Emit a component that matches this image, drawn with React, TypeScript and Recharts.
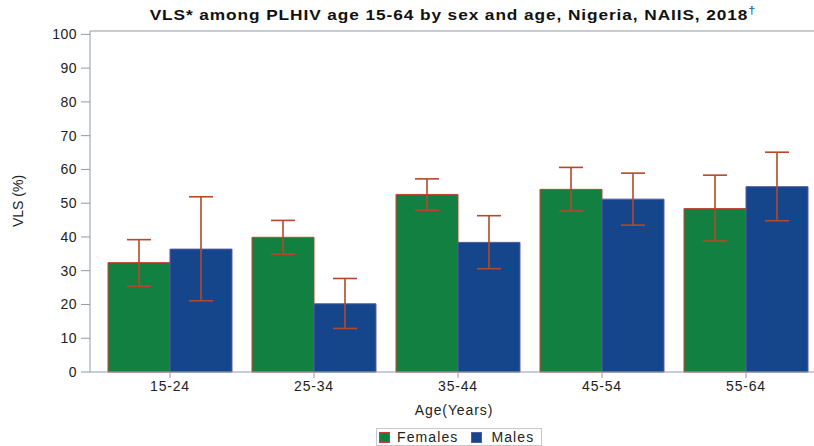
import React from "react";
import { BarChart, Bar, XAxis, YAxis, ErrorBar, Legend, ReferenceLine, Label } from "recharts";

const ageGroups = ["15-24", "25-34", "35-44", "45-54", "55-64"];
const femalesVls = [32.4, 39.9, 52.6, 54.1, 48.4];
const femalesLow = [25.4, 34.9, 47.9, 47.7, 38.8];
const femalesHigh = [39.2, 44.9, 57.2, 60.6, 58.3];
const malesVls = [36.4, 20.2, 38.4, 51.2, 54.9];
const malesLow = [21.1, 12.9, 30.6, 43.5, 44.8];
const malesHigh = [51.9, 27.7, 46.3, 58.9, 65.1];
const yTicks = [0, 10, 20, 30, 40, 50, 60, 70, 80, 90, 100];

const FONT = "'Liberation Sans', Arial, sans-serif";
const GREEN = "#118040";
const BLUE = "#15468b";
const AXIS = "#8d9ca6";
const ERR = "#b5482a";

const data = ageGroups.map((age, i) => ({
  age,
  females: femalesVls[i],
  femalesErr: [femalesVls[i] - femalesLow[i], femalesHigh[i] - femalesVls[i]],
  males: malesVls[i],
  malesErr: [malesVls[i] - malesLow[i], malesHigh[i] - malesVls[i]],
}));

const LegendBox = () => (
  <div
    style={{
      display: "flex",
      alignItems: "center",
      border: "1px solid #c8c8c8",
      height: 16,
      padding: "0 7px 0 2px",
      fontFamily: FONT,
      fontSize: 14,
      color: "#222",
      background: "#fff",
    }}
  >
    <span style={{ width: 9, height: 9, background: GREEN, border: "1px solid #c8412e", marginRight: 7 }} />
    <span style={{ letterSpacing: 1.1, marginRight: 13 }}>Females</span>
    <span style={{ width: 9, height: 9, background: BLUE, border: "1px solid #5b5aa0", marginRight: 9 }} />
    <span style={{ letterSpacing: 1.1 }}>Males</span>
  </div>
);

export default function App() {
  return (
    <div
      style={{
        position: "absolute",
        left: 0,
        top: 0,
        width: 814,
        height: 446,
        overflow: "hidden",
        background: "#fff",
      }}
    >
      <div
        style={{
          position: "absolute",
          left: 0,
          top: 4,
          width: 906,
          textAlign: "center",
          fontFamily: FONT,
          fontWeight: "bold",
          fontSize: 15,
          letterSpacing: 0.8,
          color: "#111",
          transform: "scaleX(1.15)",
          transformOrigin: "453px 0",
          zIndex: 2,
        }}
      >
        VLS* among PLHIV age 15-64 by sex and age, Nigeria, NAIIS, 2018
        <sup style={{ color: "#2a6db5", fontSize: 11 }}>†</sup>
      </div>
      <BarChart
        width={830}
        height={446}
        data={data}
        margin={{ top: 31, right: 12, bottom: 0, left: 0 }}
        barCategoryGap={10}
        barGap={0}
      >
        <ReferenceLine y={101} stroke={AXIS} strokeWidth={1} />
        <XAxis
          dataKey="age"
          height={56}
          padding={{ left: 8, right: 0 }}
          stroke={AXIS}
          tickSize={6}
          tickMargin={3}
          tick={{ fill: "#222", fontSize: 14, fontFamily: FONT, letterSpacing: 0.8 }}
        >
          <Label
            value="Age(Years)"
            position="insideBottom"
            offset={13}
            style={{ fill: "#222", fontSize: 14, fontFamily: FONT, letterSpacing: 0.9 }}
          />
        </XAxis>
        <YAxis
          width={90}
          domain={[0, 101]}
          ticks={yTicks}
          interval={0}
          stroke={AXIS}
          tickSize={9}
          tickMargin={4}
          tick={{ fill: "#222", fontSize: 14, fontFamily: FONT, letterSpacing: 0.5 }}
        >
          <Label
            content={() => (
              <text
                x={18}
                y={201}
                transform="rotate(-90 18 201)"
                textAnchor="middle"
                dominantBaseline="central"
                fill="#222"
                fontSize={14}
                fontFamily={FONT}
              >
                VLS (%)
              </text>
            )}
          />
        </YAxis>
        <Legend
          verticalAlign="bottom"
          content={() => <LegendBox />}
          wrapperStyle={{ position: "absolute", left: 376, top: 428, width: "auto", height: 18 }}
        />
        <Bar dataKey="females" name="Females" fill={GREEN} stroke="#c8412e" strokeWidth={1} isAnimationActive={false}>
          <ErrorBar dataKey="femalesErr" width={12} stroke={ERR} strokeWidth={1.6} isAnimationActive={false} />
        </Bar>
        <Bar dataKey="males" name="Males" fill={BLUE} stroke="#5b5aa0" strokeWidth={1} isAnimationActive={false}>
          <ErrorBar dataKey="malesErr" width={12} stroke={ERR} strokeWidth={1.6} isAnimationActive={false} />
        </Bar>
      </BarChart>
    </div>
  );
}
